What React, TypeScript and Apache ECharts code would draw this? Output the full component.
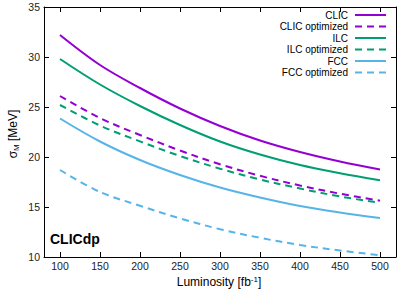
import React, { useEffect, useRef } from "react";
import * as echarts from "echarts";

const luminosity = [100, 150, 200, 250, 300, 350, 400, 450, 500];
const clic = [32.2, 29.2, 26.9, 24.85, 23.1, 21.65, 20.5, 19.55, 18.75];
const clicOpt = [26.1, 23.9, 22.2, 20.65, 19.27, 18.12, 17.15, 16.33, 15.63];
const ilc = [29.8, 27.25, 25.1, 23.2, 21.55, 20.25, 19.2, 18.38, 17.67];
const ilcOpt = [25.2, 23.15, 21.56, 20.1, 18.83, 17.75, 16.85, 16.05, 15.43];
const fcc = [23.85, 21.55, 19.7, 18.2, 16.95, 15.95, 15.1, 14.45, 13.9];
const fccOpt = [18.7, 16.5, 15.13, 13.86, 12.78, 11.92, 11.2, 10.65, 10.17];
const xTicks = [100, 150, 200, 250, 300, 350, 400, 450, 500];

const seriesDefs = [
  { name: "CLIC", data: clic, color: "#9400D3", dashed: false },
  { name: "CLIC optimized", data: clicOpt, color: "#9400D3", dashed: true },
  { name: "ILC", data: ilc, color: "#009E73", dashed: false },
  { name: "ILC optimized", data: ilcOpt, color: "#009E73", dashed: true },
  { name: "FCC", data: fcc, color: "#56B4E9", dashed: false },
  { name: "FCC optimized", data: fccOpt, color: "#56B4E9", dashed: true },
];

const FONT = "Liberation Sans, Arial, sans-serif";

export default function App() {
  const ref = useRef<HTMLDivElement>(null);
  useEffect(() => {
    if (!ref.current) return;
    const chart = echarts.init(ref.current, undefined, { renderer: "svg" });
    const tickCommon = { show: true, inside: true, length: 5, lineStyle: { color: "#000", width: 1 } };
    chart.setOption({
      animation: false,
      grid: { left: 44, right: 11, top: 7, bottom: 41, show: false },
      legend: {
        orient: "vertical",
        right: 20,
        top: 9.5,
        align: "right",
        itemWidth: 31,
        itemHeight: 11,
        itemGap: 0.5,
        padding: 0,
        itemStyle: { opacity: 0 },
        textStyle: { fontFamily: FONT, fontSize: 10, lineHeight: 11, color: "#000", padding: [0, 2, 0, 0] },
        data: seriesDefs.map((s) => s.name),
      },
      xAxis: [
        {
          type: "value",
          min: 80,
          max: 520,
          position: "bottom",
          axisLine: { show: true, lineStyle: { color: "#000", width: 1 } },
          axisTick: { ...tickCommon, customValues: xTicks },
          axisLabel: { customValues: xTicks, fontFamily: FONT, fontSize: 10.5, color: "#222", margin: 3 },
          splitLine: { show: false },
        },
        {
          type: "value",
          min: 80,
          max: 520,
          position: "top",
          axisLine: { show: true, lineStyle: { color: "#000", width: 1 } },
          axisTick: { ...tickCommon, customValues: xTicks },
          axisLabel: { show: false },
          splitLine: { show: false },
        },
      ],
      yAxis: [
        {
          type: "value",
          min: 10,
          max: 35,
          interval: 5,
          position: "left",
          axisLine: { show: true, lineStyle: { color: "#000", width: 1 } },
          axisTick: { ...tickCommon },
          axisLabel: { fontFamily: FONT, fontSize: 10.5, color: "#222", margin: 4 },
          splitLine: { show: false },
        },
        {
          type: "value",
          min: 10,
          max: 35,
          interval: 5,
          position: "right",
          axisLine: { show: true, lineStyle: { color: "#000", width: 1 } },
          axisTick: { ...tickCommon },
          axisLabel: { show: false },
          splitLine: { show: false },
        },
      ],
      series: seriesDefs.map((s) => ({
        name: s.name,
        type: "line",
        xAxisIndex: 0,
        yAxisIndex: 0,
        smooth: 0.35,
        symbol: "none",
        data: luminosity.map((x, i) => [x, s.data[i]]),
        itemStyle: { color: s.color },
        lineStyle: { color: s.color, width: 2, type: s.dashed ? [7, 5] : "solid" },
      })),
      graphic: [
        {
          type: "text",
          left: 50,
          top: 232,
          style: { text: "CLICdp", font: "bold 14px Liberation Sans, Arial, sans-serif", fill: "#000" },
        },
        {
          type: "text",
          x: 219,
          y: 282,
          style: {
            text: "{n|Luminosity [fb}{s|-1}{n|]}",
            align: "center",
            verticalAlign: "middle",
            rich: {
              n: { fontFamily: FONT, fontSize: 12, fill: "#000" },
              s: { fontFamily: FONT, fontSize: 8, fill: "#000", verticalAlign: "top", padding: [0, 0, 6, 0] },
            },
          },
        },
        {
          type: "text",
          x: 13,
          y: 134,
          rotation: Math.PI / 2,
          style: {
            text: "{n|σ}{s|M}{n| [MeV]}",
            align: "center",
            verticalAlign: "middle",
            rich: {
              n: { fontFamily: FONT, fontSize: 12, fill: "#000" },
              s: { fontFamily: FONT, fontSize: 8, fill: "#000", padding: [6, 0, 0, 0] },
            },
          },
        },
      ],
    });
    return () => chart.dispose();
  }, []);
  return <div ref={ref} style={{ width: 407, height: 298, position: "absolute", left: 0, top: 0 }} />;
}
